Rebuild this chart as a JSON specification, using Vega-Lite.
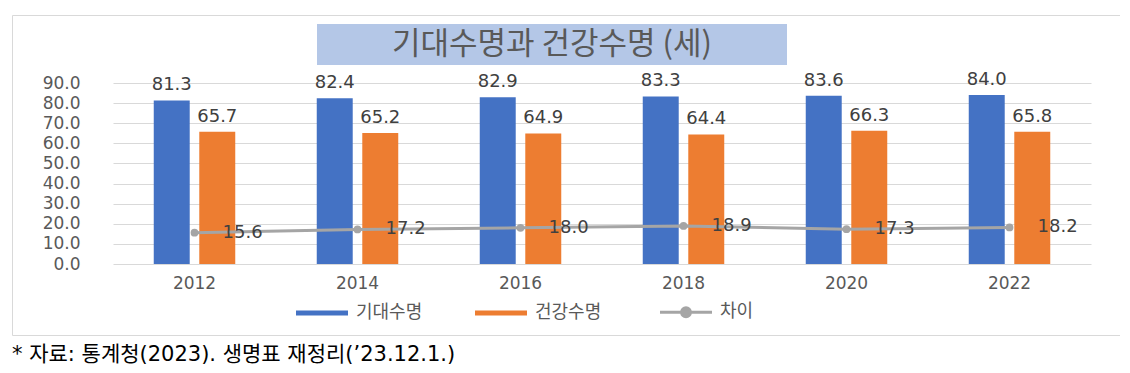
{
  "$schema": "https://vega.github.io/schema/vega-lite/v6.json",
  "padding": {"left": 12, "top": 15, "right": 0, "bottom": 0},
  "background": "white",
  "datasets": {
    "bars": [
      {"year": "2012", "series": "기대수명", "value": 81.3},
      {"year": "2012", "series": "건강수명", "value": 65.7},
      {"year": "2014", "series": "기대수명", "value": 82.4},
      {"year": "2014", "series": "건강수명", "value": 65.2},
      {"year": "2016", "series": "기대수명", "value": 82.9},
      {"year": "2016", "series": "건강수명", "value": 64.9},
      {"year": "2018", "series": "기대수명", "value": 83.3},
      {"year": "2018", "series": "건강수명", "value": 64.4},
      {"year": "2020", "series": "기대수명", "value": 83.6},
      {"year": "2020", "series": "건강수명", "value": 66.3},
      {"year": "2022", "series": "기대수명", "value": 84.0},
      {"year": "2022", "series": "건강수명", "value": 65.8}
    ],
    "gap": [
      {"year": "2012", "series": "차이", "value": 15.6},
      {"year": "2014", "series": "차이", "value": 17.2},
      {"year": "2016", "series": "차이", "value": 18.0},
      {"year": "2018", "series": "차이", "value": 18.9},
      {"year": "2020", "series": "차이", "value": 17.3},
      {"year": "2022", "series": "차이", "value": 18.2}
    ],
    "titleRow": [{"t": "기대수명과 건강수명 (세)"}]
  },
  "title": {
    "text": "* 자료: 통계청(2023). 생명표 재정리(’23.12.1.)",
    "orient": "bottom",
    "anchor": "start",
    "frame": "bounds",
    "offset": 9,
    "font": "DejaVu Sans, Noto Sans CJK KR",
    "fontSize": 21,
    "fontWeight": "normal",
    "color": "#000000"
  },
  "width": 1108,
  "height": 320,
  "view": {"stroke": "#D9D9D9", "strokeWidth": 1, "fill": null},
  "resolve": {"scale": {"x": "independent", "y": "independent"}, "axis": {"x": "independent", "y": "independent"}},
  "layer": [
    {
      "data": {"name": "titleRow"},
      "encoding": {
        "x": {"field": "t", "type": "nominal", "scale": {"range": [305, 775], "paddingInner": 0, "paddingOuter": 0}, "axis": null},
        "y": {"field": "t", "type": "nominal", "scale": {"range": [9, 50], "paddingInner": 0, "paddingOuter": 0}, "axis": null}
      },
      "layer": [
        {"mark": {"type": "rect", "fill": "#B4C7E7"}},
        {"mark": {"type": "text", "font": "Noto Sans CJK KR", "fontSize": 31, "color": "#595959", "baseline": "middle", "align": "center"},
         "encoding": {"text": {"field": "t"}}}
      ]
    },
    {
      "encoding": {
        "x": {
          "field": "year", "type": "nominal",
          "scale": {"range": [101, 1079], "paddingInner": 0.5, "paddingOuter": 0.25},
          "axis": {"title": null, "offset": -71, "domain": false, "ticks": false, "tickSize": 0, "labelPadding": 11, "labelAngle": 0, "labelFont": "DejaVu Sans", "labelFontSize": 17, "labelColor": "#595959", "grid": false}
        },
        "y": {
          "field": "value", "type": "quantitative",
          "scale": {"domain": [0, 90], "nice": false, "range": [249, 68]},
          "axis": {"title": null, "offset": -101, "values": [0, 10, 20, 30, 40, 50, 60, 70, 80, 90], "format": ".1f", "domain": false, "ticks": false, "tickSize": 0, "labelPadding": 33, "labelFont": "DejaVu Sans", "labelFontSize": 17, "labelColor": "#595959", "grid": true, "gridColor": "#D9D9D9", "gridWidth": 1}
        }
      },
      "layer": [
        {
          "data": {"name": "bars"},
          "mark": {"type": "bar"},
          "encoding": {
            "xOffset": {"field": "series", "type": "nominal", "scale": {"domain": ["기대수명", "건강수명"], "paddingInner": 0.21, "paddingOuter": 0}},
            "color": {
              "field": "series", "type": "nominal",
              "scale": {"domain": ["기대수명", "건강수명", "차이"], "range": ["#4472C4", "#ED7D31", "#A5A5A5"]},
              "legend": {
                "orient": "none", "legendX": 301, "legendY": 288, "direction": "horizontal",
                "title": null, "padding": 0,
                "labelFont": "Noto Sans CJK KR", "labelFontSize": 18, "labelColor": "#595959",
                "labelOffset": 25, "columnPadding": 52,
                "symbolSize": 2704, "symbolType": "M-1,-0.096H1V0.096H-1Z",
                "symbolStrokeWidth": 0, "symbolOpacity": 1,
                "encode": {
                  "symbols": {
                    "update": {
                      "shape": {"signal": "datum.value === '차이' ? 'M-1,0H1M0.17,0A0.17,0.17 0 1 1 -0.17,0A0.17,0.17 0 1 1 0.17,0Z' : 'M-1,-0.096H1V0.096H-1Z'"},
                      "fill": {"signal": "scale('color', datum.value)"},
                      "stroke": {"signal": "scale('color', datum.value)"},
                      "strokeWidth": {"signal": "datum.value === '차이' ? 3 : 0"},
                      "opacity": {"value": 1},
                      "fillOpacity": {"value": 1},
                      "strokeOpacity": {"value": 1}
                    }
                  }
                }
              }
            }
          }
        },
        {
          "data": {"name": "bars"},
          "mark": {"type": "text", "dy": -10, "baseline": "alphabetic", "align": "center", "font": "DejaVu Sans", "fontSize": 18, "color": "#404040"},
          "encoding": {
            "xOffset": {"field": "series", "type": "nominal", "scale": {"domain": ["기대수명", "건강수명"], "paddingInner": 0.21, "paddingOuter": 0}},
            "text": {"field": "value", "type": "quantitative", "format": ".1f"}
          }
        },
        {
          "data": {"name": "gap"},
          "mark": {"type": "line", "strokeWidth": 3},
          "encoding": {"color": {"field": "series", "type": "nominal"}}
        },
        {
          "data": {"name": "gap"},
          "mark": {"type": "point", "filled": true, "size": 60, "opacity": 1},
          "encoding": {"color": {"field": "series", "type": "nominal"}}
        },
        {
          "data": {"name": "gap"},
          "mark": {"type": "text", "dx": 28, "align": "left", "baseline": "middle", "font": "DejaVu Sans", "fontSize": 18, "color": "#404040"},
          "encoding": {"text": {"field": "value", "type": "quantitative", "format": ".1f"}}
        }
      ]
    }
  ]
}
